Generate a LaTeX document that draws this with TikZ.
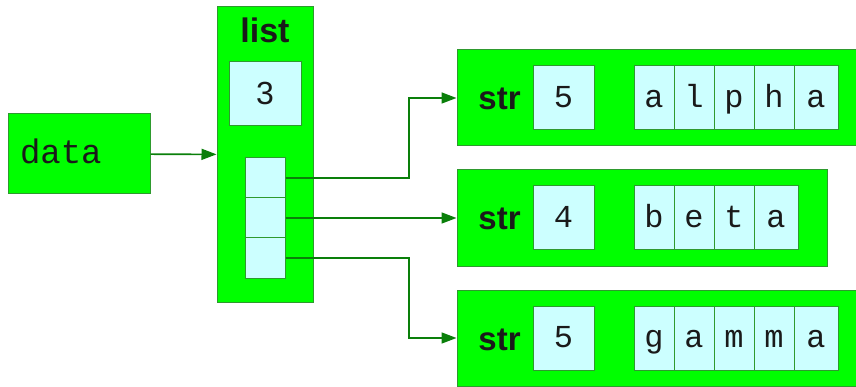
\documentclass[tikz,border=0pt]{standalone}
\usepackage{fontspec}
\setmainfont{Liberation Sans}
\setmonofont{Liberation Mono}
\usetikzlibrary{arrows.meta}
\definecolor{boxgreen}{HTML}{00FF00}
\definecolor{edgegreen}{HTML}{2E9A2E}
\definecolor{cellcyan}{HTML}{CCFFFF}
\definecolor{linkgreen}{HTML}{0A7F0A}
\definecolor{ink}{HTML}{1A1A1A}
\tikzset{
  outerbox/.style={draw=edgegreen, fill=boxgreen, line width=1pt, inner sep=0pt},
  cellbox/.style={draw=edgegreen, fill=cellcyan, line width=1pt, inner sep=0pt,
    text=ink, font=\ttfamily\fontsize{32}{32}\selectfont, text height=19.5pt, text depth=0pt},
  tag/.style={text=ink, font=\bfseries\fontsize{33}{33}\selectfont, inner sep=0pt},
  link/.style={draw=linkgreen, line width=1.6pt, -{Triangle[length=15pt,width=11pt]}},
}
\begin{document}
\begin{tikzpicture}[x=1pt,y=-1pt]
		\useasboundingbox (0,0) rectangle (856,387);
		% variable and list object
		\node[outerbox, minimum width=142pt, minimum height=80pt, text width=118pt, inner xsep=12pt,
		    align=left, text=ink, font=\ttfamily\fontsize{34}{34}\selectfont, text height=20pt, text depth=0pt]
		    (data) at (79,154) {data};
		\node[outerbox, minimum width=96pt, minimum height=295pt] (list) at (265,154.5) {};
		\node[tag, anchor=base, font=\bfseries\fontsize{34}{34}\selectfont] (listtag) at (265,43) {list};
		\node[cellbox, minimum width=72pt, minimum height=64pt, font=\fontsize{32}{32}\selectfont,
		    text height=22pt] (count) at (265,94) {3};
		\foreach \r/\y in {1/178,2/218,3/258}{
		    \node[cellbox, minimum width=40pt, minimum height=40pt] (slot\r) at (265,\y) {};
		}
		\coordinate (turn) at (409,0);
		\draw[link] (data) -- (list);
		% string objects
		\foreach \n/\letters/\xend [count=\r] in {5/{a,l,p,h,a}/856, 4/{b,e,t,a}/827, 5/{g,a,m,m,a}/856}{
		    \pgfmathsetmacro\yc{98+120*(\r-1)}
		    \pgfmathsetmacro\xc{(457+\xend)/2}
		    \pgfmathsetmacro\boxw{\xend-457}
		    \node[outerbox, minimum width=\boxw pt, minimum height=96pt] (s\r) at (\xc,\yc) {};
		    \node[tag, text height=24pt, text depth=0pt] (t\r) at (499.5,\yc) {str};
		    \node[cellbox, minimum width=61pt, minimum height=64pt] (n\r) at (563.5,\yc) {\n};
		    \foreach \c [count=\i] in \letters{
		        \pgfmathsetmacro\cw{\i==\n ? 44 : 40}
		        \pgfmathsetmacro\cx{634+40*(\i-1)+\cw/2}
		        \node[cellbox, minimum width=\cw pt, minimum height=64pt] (c\r-\i) at (\cx,\yc) {\c};
		    }
		    \draw[link] (slot\r.east) -- (slot\r.east -| turn) |- (s\r.west);
		}
\end{tikzpicture}
\end{document}
